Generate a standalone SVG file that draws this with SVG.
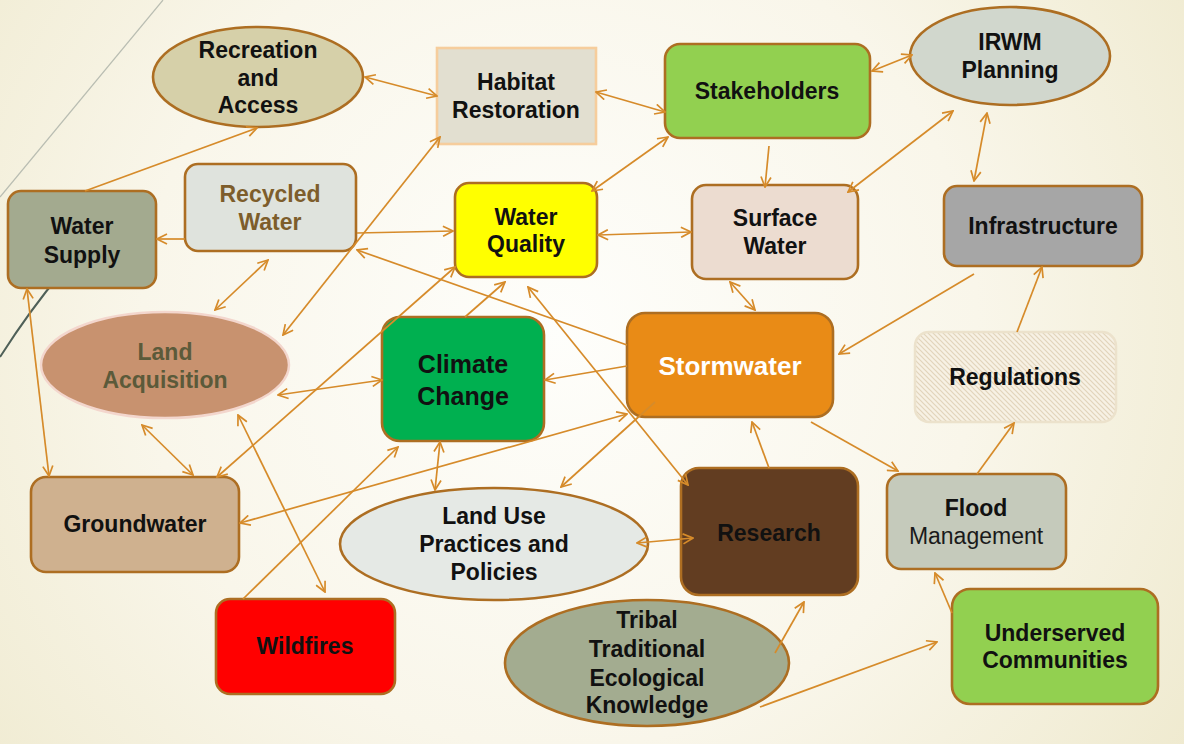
<svg xmlns="http://www.w3.org/2000/svg" width="1184" height="744" viewBox="0 0 1184 744">
<defs>
<radialGradient id="bg" cx="560" cy="330" r="760" gradientUnits="userSpaceOnUse">
<stop offset="0" stop-color="#fefefb"/>
<stop offset="0.55" stop-color="#f9f6ea"/>
<stop offset="1" stop-color="#efeacf"/>
</radialGradient>
<pattern id="hatch" width="5" height="5" patternUnits="userSpaceOnUse">
<rect width="5" height="5" fill="#f7f1e4"/>
<path d="M-1,-1 L6,6 M-1,4 L1,6 M4,-1 L6,1" stroke="#e2d4bb" stroke-width="1.2"/>
</pattern>
<marker id="ah" viewBox="0 0 12 12" refX="11" refY="6" markerWidth="12" markerHeight="12" markerUnits="userSpaceOnUse" orient="auto-start-reverse">
<path d="M1,1 L11,6 L1,11" fill="none" stroke="#d68b2a" stroke-width="1.7"/>
</marker>
</defs>
<style>
.n{stroke:#ad6e22;stroke-width:2.6}
.t{font-family:"Liberation Sans",Arial,sans-serif;font-weight:bold;font-size:23px;text-anchor:middle;fill:#111}
.c line{stroke:#d68b2a;stroke-width:1.7;fill:none}
.e{marker-end:url(#ah)}
.b{marker-start:url(#ah);marker-end:url(#ah)}
</style>
<rect width="1184" height="744" fill="url(#bg)"/>
<path d="M163,0 Q80,100 0,197" fill="none" stroke="#b9bdb2" stroke-width="1.2"/>
<path d="M62,272 Q30,310 0,357" fill="none" stroke="#4f6058" stroke-width="2"/>

<g id="recreation"><ellipse class="n" cx="258" cy="77" rx="105" ry="50" fill="#d6d0a9"/><text class="t" x="258" y="58">Recreation</text><text class="t" x="258" y="86">and</text><text class="t" x="258" y="113">Access</text></g>
<g id="habitat"><rect x="437" y="48" width="159" height="96" fill="#e2dfd0" stroke="#f6cd9c" stroke-width="2.6"/><text class="t" x="516" y="90">Habitat</text><text class="t" x="516" y="118">Restoration</text></g>
<g id="stakeholders"><rect class="n" x="665" y="44" width="205" height="94" rx="15" fill="#92d050"/><text class="t" x="767" y="99">Stakeholders</text></g>
<g id="irwm"><ellipse class="n" cx="1010" cy="56" rx="100" ry="49" fill="#d1d7cd"/><text class="t" x="1010" y="50">IRWM</text><text class="t" x="1010" y="78">Planning</text></g>
<g id="watersupply"><rect class="n" x="8" y="191" width="148" height="97" rx="13" fill="#a3aa8f"/><text class="t" x="82" y="234">Water</text><text class="t" x="82" y="263">Supply</text></g>
<g id="recycled"><rect class="n" x="185" y="164" width="171" height="87" rx="13" fill="#dfe3dd"/><text class="t" x="270" y="202" style="fill:#7d5d2b">Recycled</text><text class="t" x="270" y="230" style="fill:#7d5d2b">Water</text></g>
<g id="waterquality"><rect class="n" x="455" y="183" width="142" height="94" rx="14" fill="#ffff00"/><text class="t" x="526" y="225">Water</text><text class="t" x="526" y="252">Quality</text></g>
<g id="surfacewater"><rect class="n" x="692" y="185" width="166" height="94" rx="14" fill="#ecdcd0"/><text class="t" x="775" y="226">Surface</text><text class="t" x="775" y="254">Water</text></g>
<g id="infrastructure"><rect class="n" x="944" y="186" width="198" height="80" rx="13" fill="#a6a6a6"/><text class="t" x="1043" y="234">Infrastructure</text></g>
<g id="landacq"><ellipse cx="165" cy="365" rx="124" ry="53" fill="#c8926f" stroke="#f3d6cd" stroke-width="2.5"/><text class="t" x="165" y="360" style="fill:#5b5a3a">Land</text><text class="t" x="165" y="388" style="fill:#5b5a3a">Acquisition</text></g>
<g id="climate"><rect class="n" x="382" y="317" width="162" height="124" rx="18" fill="#00b050"/><text class="t" x="463" y="373" style="font-size:25px">Climate</text><text class="t" x="463" y="405" style="font-size:25px">Change</text></g>
<g id="stormwater"><rect class="n" x="627" y="313" width="206" height="104" rx="18" fill="#e98b16"/><text class="t" x="730" y="375" style="font-size:26px;fill:#ffffff">Stormwater</text></g>
<g id="regulations"><rect x="915" y="332" width="201" height="90" rx="14" fill="url(#hatch)" stroke="#ece2cc" stroke-width="2.5"/><text class="t" x="1015" y="385">Regulations</text></g>
<g id="groundwater"><rect class="n" x="31" y="477" width="208" height="95" rx="15" fill="#cfb18f"/><text class="t" x="135" y="532">Groundwater</text></g>
<g id="wildfires"><rect class="n" x="216" y="599" width="179" height="95" rx="14" fill="#ff0000"/><text class="t" x="305" y="654">Wildfires</text></g>
<g id="landuse"><ellipse class="n" cx="494" cy="544" rx="154" ry="56" fill="#e5e9e5"/><text class="t" x="494" y="524">Land Use</text><text class="t" x="494" y="552">Practices and</text><text class="t" x="494" y="580">Policies</text></g>
<g id="research"><rect class="n" x="681" y="468" width="177" height="127" rx="18" fill="#623d21"/><text class="t" x="769" y="541">Research</text></g>
<g id="tribal"><ellipse class="n" cx="647" cy="663" rx="142" ry="63" fill="#a3ac90"/><text class="t" x="647" y="628">Tribal</text><text class="t" x="647" y="657">Traditional</text><text class="t" x="647" y="686">Ecological</text><text class="t" x="647" y="713">Knowledge</text></g>
<g id="flood"><rect class="n" x="887" y="474" width="179" height="95" rx="14" fill="#c5cabb"/><text class="t" x="976" y="516">Flood</text><text class="t" x="976" y="544" style="font-weight:normal;fill:#1a1a1a">Management</text></g>
<g id="underserved"><rect class="n" x="952" y="589" width="206" height="115" rx="18" fill="#92d050"/><text class="t" x="1055" y="641">Underserved</text><text class="t" x="1055" y="668">Communities</text></g>

<g id="connectors" class="c">
<line class="e" x1="85" y1="191" x2="257" y2="128"/>
<line class="b" x1="365" y1="77" x2="437" y2="96"/>
<line class="b" x1="596" y1="92" x2="665" y2="112"/>
<line class="b" x1="872" y1="71" x2="912" y2="55"/>
<line class="e" x1="769" y1="146" x2="765" y2="187"/>
<line class="b" x1="668" y1="137" x2="592" y2="191"/>
<line class="b" x1="598" y1="235" x2="691" y2="232"/>
<line class="b" x1="953" y1="111" x2="848" y2="192"/>
<line class="b" x1="987" y1="113" x2="974" y2="181"/>
<line class="e" x1="974" y1="274" x2="839" y2="354"/>
<line class="e" x1="1017" y1="332" x2="1042" y2="267"/>
<line class="e" x1="977" y1="474" x2="1014" y2="423"/>
<line class="e" x1="811" y1="422" x2="898" y2="471"/>
<line class="e" x1="952" y1="613" x2="935" y2="573"/>
<line class="e" x1="760" y1="707" x2="937" y2="642"/>
<line class="e" x1="775" y1="653" x2="804" y2="602"/>
<line class="b" x1="637" y1="543" x2="693" y2="538"/>
<line class="e" x1="769" y1="468" x2="752" y2="422"/>
<line class="e" x1="655" y1="402" x2="561" y2="487"/>
<line class="b" x1="240" y1="523" x2="627" y2="414"/>
<line class="e" x1="243" y1="599" x2="398" y2="447"/>
<line class="b" x1="238" y1="415" x2="325" y2="592"/>
<line class="b" x1="142" y1="425" x2="193" y2="475"/>
<line class="b" x1="27" y1="289" x2="49" y2="476"/>
<line class="b" x1="278" y1="395" x2="382" y2="380"/>
<line class="b" x1="268" y1="260" x2="215" y2="310"/>
<line class="b" x1="440" y1="137" x2="283" y2="335"/>
<line class="e" x1="357" y1="233" x2="453" y2="231"/>
<line class="e" x1="185" y1="239" x2="157" y2="239"/>
<line class="e" x1="627" y1="345" x2="357" y2="250"/>
<line class="e" x1="627" y1="366" x2="545" y2="380"/>
<line class="e" x1="465" y1="317" x2="505" y2="282"/>
<line class="b" x1="217" y1="477" x2="455" y2="267"/>
<line class="b" x1="528" y1="287" x2="688" y2="485"/>
<line class="b" x1="440" y1="442" x2="435" y2="490"/>
<line class="b" x1="730" y1="282" x2="755" y2="310"/>
</g>
</svg>
